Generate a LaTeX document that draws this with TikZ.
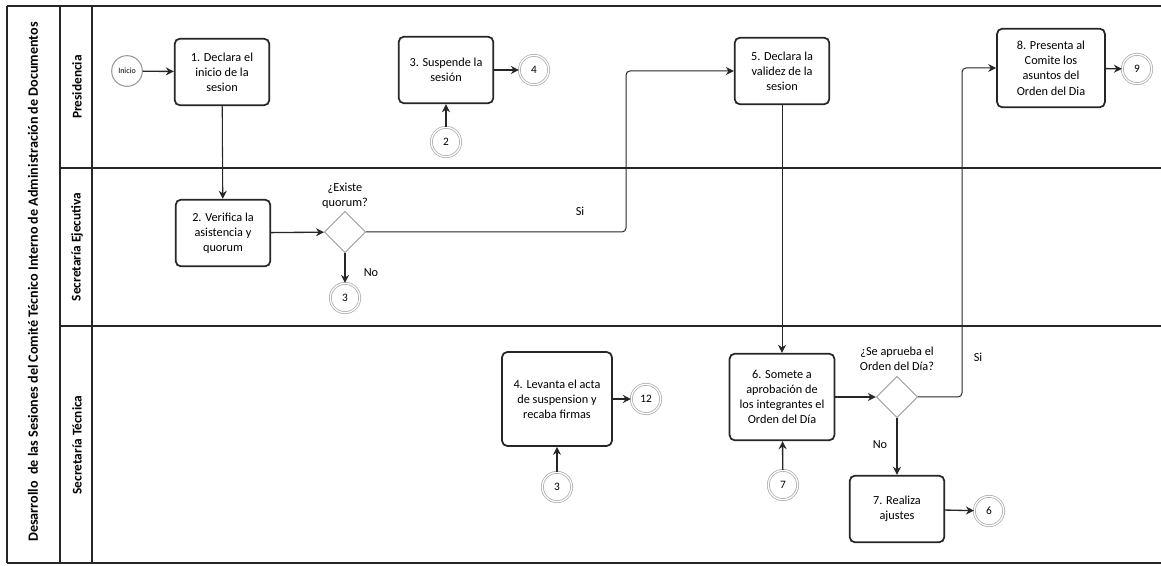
\documentclass[tikz,border=0pt]{standalone}
\usepackage{fontspec}
\setmainfont{Carlito}
\usetikzlibrary{shapes.geometric,arrows.meta}
\begin{document}
\begin{tikzpicture}[x=0.75pt,y=-0.75pt,
  lane/.style={line width=0.9pt,draw=black!85},
  stepbox/.style={draw=black!85,line width=1.3pt,rounded corners=4pt,align=center,inner sep=0pt,
     font=\fontsize{9.2}{11.4}\selectfont,minimum width=71pt,minimum height=50pt},
  gate/.style={diamond,draw=black!40,line width=0.7pt,aspect=1,inner sep=0pt,minimum width=31pt,minimum height=31pt},
  conn/.style={circle,draw=black!30,double,double distance=0.9pt,line width=0.6pt,inner sep=0pt,minimum size=22pt,
     font=\fontsize{8.5}{10}\selectfont},
  startev/.style={circle,draw=black!40,line width=0.8pt,inner sep=0pt,minimum size=23pt,font=\fontsize{6}{7}\selectfont},
  arr/.style={-{Stealth[length=6pt,width=6pt]},line width=1pt,draw=black!85},
  thinarr/.style={-{Stealth[length=6pt,width=6pt]},line width=0.75pt,draw=black!85,rounded corners=3pt},
  lbl/.style={font=\fontsize{9.2}{11.4}\selectfont,align=center},
  lanelbl/.style={font=\bfseries\fontsize{10}{12}\selectfont,rotate=90}]
\useasboundingbox (0,0) rectangle (1161,566);
% frame
\draw[lane] (7,6) -- (1161,6);
\draw[lane] (7,563) -- (1161,563);
\draw[lane] (7,6) -- (7,563);
\draw[lane] (60,6) -- (60,563);
\draw[lane] (92,6) -- (92,563);
\draw[lane] (60,168) -- (1161,168);
\draw[lane] (60,326) -- (1161,326);
\node[lanelbl,font=\bfseries\fontsize{10.6}{12}\selectfont] (title) at (33,282) {Desarrollo\ \ de las Sesiones del Comité Técnico Interno de Administración de Documentos};
\node[lanelbl] (l1) at (77,87) {Presidencia};
\node[lanelbl] (l2) at (77,247) {Secretaría Ejecutiva};
\node[lanelbl] (l3) at (77,445) {Secretaría Técnica};
% nodes
\node[startev] (ini) at (127,71) {Inicio};
\node[stepbox] (b1) at (222,72) {1. Declara el\\inicio de la\\sesion};
\node[stepbox] (b2) at (223,233) {2. Verifica la\\asistencia y\\quorum};
\node[gate] (g1) at (345,232) {};
\node[lbl] (g1l) at (345,196) {¿Existe\\quorum?};
\node[conn] (c3a) at (345,298) {3};
\node[lbl] (no1) at (371,273) {No};
\node[lbl] (si1) at (580,211) {Si};
\node[stepbox] (b3) at (446,70) {3. Suspende la\\sesión};
\node[conn] (c4) at (534,70) {4};
\node[conn] (c2) at (446,142) {2};
\node[stepbox] (b5) at (782,71) {5. Declara la\\validez de la\\sesion};
\node[stepbox,minimum width=81pt,minimum height=59pt] (b8) at (1051,68) {8. Presenta al\\Comite los\\asuntos del\\Orden del Dia};
\node[conn] (c9) at (1137,69) {9};
\node[stepbox,minimum width=82.5pt,minimum height=70.5pt] (b4) at (557,399) {4. Levanta el acta\\de suspension y\\recaba firmas};
\node[conn] (c12) at (646,399) {12};
\node[conn] (c3b) at (557,487) {3};
\node[stepbox,minimum width=78.75pt,minimum height=65pt] (b6) at (782,397) {6. Somete a\\aprobación de\\los integrantes el\\Orden del Día};
\node[conn] (c7) at (783,485) {7};
\node[gate] (g2) at (897,397) {};
\node[lbl] (g2l) at (897,359) {¿Se aprueba el\\Orden del Día?};
\node[lbl] (si2) at (978,357) {Si};
\node[lbl] (no2) at (880,445) {No};
\node[stepbox] (b7) at (897,509) {7. Realiza\\ajustes};
\node[conn] (c6) at (989,511) {6};
\coordinate (k1) at (626,232);
\coordinate (k2) at (626,71);
\coordinate (k3) at (962,397);
\coordinate (k4) at (962,68);
% connectors
\draw[arr] (ini) -- (b1);
\draw[arr,line width=0.8pt] (b1) -- (b2);
\draw[arr] (b2) -- (g1);
\draw[arr] (g1) -- (c3a);
\draw[thinarr] (g1.east) -- (k1) -- (k2) -- (b5.west);
\draw[arr] (c2) -- (b3);
\draw[arr] (b3) -- (c4);
\draw[arr] (c3b) -- (b4);
\draw[arr] (b4) -- (c12);
\draw[thinarr] (b5) -- (b6);
\draw[arr] (c7) -- (b6);
\draw[arr] (b6) -- (g2);
\draw[thinarr] (g2.east) -- (k3) -- (k4) -- (b8.west);
\draw[arr] (g2) -- (b7);
\draw[arr] (b7) -- (c6);
\draw[arr] (b8) -- (c9);
\end{tikzpicture}
\end{document}
